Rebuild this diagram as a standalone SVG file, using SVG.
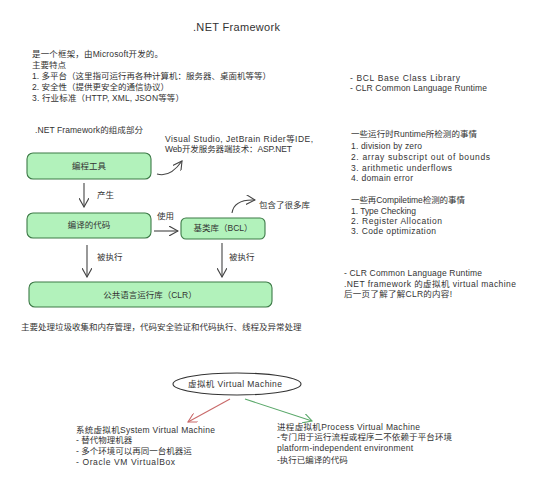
<svg xmlns="http://www.w3.org/2000/svg" width="542" height="500" viewBox="0 0 542 500">
<defs>
<style>
text{font-family:"Liberation Sans","Noto Sans CJK SC",sans-serif;font-size:8.5px;fill:#333}
.title{font-size:11px}
.box{fill:#b2f2bb;stroke:#3d7a47;stroke-width:1.1}
.c{text-anchor:middle}
.ln{fill:none;stroke:#444;stroke-width:1.1}
</style>
<marker id="ah" viewBox="0 0 10 10" refX="9" refY="5" markerWidth="10" markerHeight="10" markerUnits="userSpaceOnUse" orient="auto">
<path d="M0,0 L9,5 L0,10" fill="none" stroke="#444" stroke-width="1.1"/>
</marker>
<marker id="ahr" viewBox="0 0 10 10" refX="9" refY="5" markerWidth="10" markerHeight="10" markerUnits="userSpaceOnUse" orient="auto">
<path d="M0,0 L9,5 L0,10" fill="none" stroke="#c96a6a" stroke-width="1.1"/>
</marker>
<marker id="ahg" viewBox="0 0 10 10" refX="9" refY="5" markerWidth="10" markerHeight="10" markerUnits="userSpaceOnUse" orient="auto">
<path d="M0,0 L9,5 L0,10" fill="none" stroke="#5aa86a" stroke-width="1.1"/>
</marker>
</defs>
<rect width="542" height="500" fill="#fff"/>

<g id="texts">
<text class="title" x="193" y="31" textLength="87">.NET Framework</text>
<text x="32" y="57" textLength="131">是一个框架，由Microsoft开发的。</text>
<text x="32" y="68">主要特点</text>
<text x="32" y="79">1. 多平台（这里指可运行再各种计算机：服务器、桌面机等等）</text>
<text x="32" y="90">2. 安全性（提供更安全的通信协议）</text>
<text x="32" y="101" textLength="152">3. 行业标准（HTTP, XML, JSON等等）</text>
<text x="350" y="81" textLength="110">- BCL Base Class Library</text>
<text x="350" y="91" textLength="137">- CLR Common Language Runtime</text>
<text x="35" y="133" textLength="108">.NET Framework的组成部分</text>
<text x="165" y="142" textLength="148">Visual Studio, JetBrain Rider等IDE,</text>
<text x="165" y="152" textLength="127">Web开发服务器端技术：ASP.NET</text>
<text x="351" y="137" textLength="126">一些运行时Runtime所检测的事情</text>
<text x="351" y="149" textLength="71">1. division by zero</text>
<text x="351" y="160" textLength="139">2. array subscript out of bounds</text>
<text x="351" y="171" textLength="101">3. arithmetic underflows</text>
<text x="351" y="181" textLength="62">4. domain error</text>
<text x="351" y="203" textLength="114">一些再Compiletime检测的事情</text>
<text x="351" y="214" textLength="65">1. Type Checking</text>
<text x="351" y="224" textLength="91">2. Register Allocation</text>
<text x="351" y="234" textLength="85">3. Code optimization</text>
<text x="344" y="276" textLength="138">- CLR Common Language Runtime</text>
<text x="344" y="287" textLength="172">.NET framework 的虚拟机 virtual machine</text>
<text x="344" y="297" textLength="108">后一页了解了解CLR的内容!</text>
<text x="21" y="330">主要处理垃圾收集和内存管理，代码安全验证和代码执行、线程及异常处理</text>
<text x="76" y="433" textLength="139">系统虚拟机System Virtual Machine</text>
<text x="76" y="443">- 替代物理机器</text>
<text x="76" y="454">- 多个环境可以再同一台机器运</text>
<text x="76" y="465" textLength="99">- Oracle VM VirtualBox</text>
<text x="277" y="430" textLength="143">进程虚拟机Process Virtual Machine</text>
<text x="277" y="440" textLength="175">-专门用于运行流程或程序二不依赖于平台环境</text>
<text x="277" y="451" textLength="136">platform-independent environment</text>
<text x="277" y="463">-执行已编译的代码</text>
</g>

<g id="node-tools">
<rect class="box" x="27" y="153" width="124" height="26" rx="6"/>
<text class="c" x="89" y="169">编程工具</text>
</g>
<g id="node-code">
<rect class="box" x="27" y="213" width="124" height="25" rx="6"/>
<text class="c" x="89" y="228">编译的代码</text>
</g>
<g id="node-bcl">
<rect class="box" x="181" y="218" width="84" height="21" rx="5"/>
<text class="c" x="223" y="231">基类库（BCL）</text>
</g>
<g id="node-clr">
<rect class="box" x="29" y="282" width="243" height="25" rx="6"/>
<text class="c" x="150" y="298">公共语言运行库（CLR）</text>
</g>
<g id="node-vm">
<ellipse cx="237" cy="384" rx="64" ry="11" fill="none" stroke="#333" stroke-width="1.1"/>
<text x="188" y="387" textLength="94">虚拟机 Virtual Machine</text>
</g>

<g id="connectors">
<path class="ln" d="M157,174 Q170,178 182,161" marker-end="url(#ah)"/>
<path class="ln" d="M84,183 L84,207" marker-end="url(#ah)"/>
<text x="97" y="198">产生</text>
<path class="ln" d="M154,231 L178,231" marker-end="url(#ah)"/>
<text x="157" y="219">使用</text>
<path class="ln" d="M232,213 Q234,199 255,200" marker-end="url(#ah)"/>
<text x="259" y="208">包含了很多库</text>
<path class="ln" d="M87,245 L87,277" marker-end="url(#ah)"/>
<text x="97" y="260">被执行</text>
<path class="ln" d="M222,243 L222,277" marker-end="url(#ah)"/>
<text x="229" y="260">被执行</text>
<path d="M230,399 L188,422" fill="none" stroke="#c96a6a" stroke-width="1.1" marker-end="url(#ahr)"/>
<path d="M245,399 L312,421" fill="none" stroke="#5aa86a" stroke-width="1.1" marker-end="url(#ahg)"/>
</g>
</svg>
